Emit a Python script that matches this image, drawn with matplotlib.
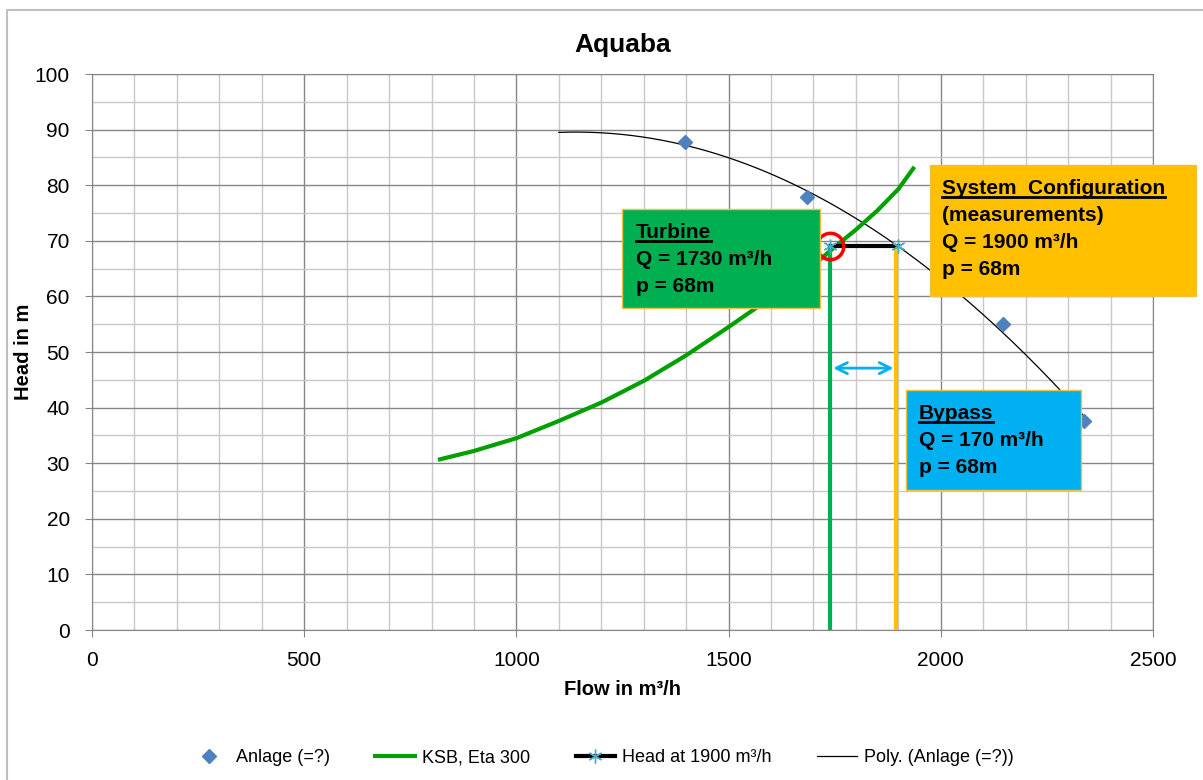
import matplotlib
matplotlib.use("Agg")
import matplotlib.pyplot as plt
from matplotlib.patches import Rectangle
from matplotlib.lines import Line2D
import numpy as np

plt.rcParams['font.family'] = ['Liberation Sans', 'DejaVu Sans']

# measured points of the system (Anlage)
anlage_q = [1398, 1684, 2147, 2337]
anlage_h = [87.7, 77.8, 55.0, 37.6]

# KSB Eta 300 curve
ksb_q = [820, 900, 1000, 1100, 1200, 1300, 1400, 1500, 1600, 1700, 1750, 1800, 1850, 1900, 1935]
ksb_h = [30.7, 32.2, 34.5, 37.6, 40.9, 44.8, 49.4, 54.5, 59.8, 65.6, 68.9, 72.0, 75.4, 79.3, 83.0]

# head at 1900 m3/h
head_q = [1738, 1898]
head_h = [69.0, 69.0]

turbine_q = 1740
system_q = 1895
bypass_h = 47.1
poly_range = [1100, 2337]

fig = plt.figure(figsize=(12.03, 7.8), dpi=100)
W, H = 1203, 780
ax = fig.add_axes([92 / W, 1 - 630 / H, (1153 - 92) / W, (630 - 74) / H])

ax.set_xlim(0, 2500)
ax.set_ylim(0, 100)
ax.set_xticks(np.arange(0, 2501, 500))
ax.set_yticks(np.arange(0, 101, 10))
ax.set_xticks(np.arange(0, 2501, 100), minor=True)
ax.set_yticks(np.arange(0, 101, 5), minor=True)
ax.grid(which='major', color='#868686', lw=1.0)
ax.grid(which='minor', color='#C8C8C8', lw=1.0)
ax.set_axisbelow(True)
ax.tick_params(which='minor', length=0)
ax.tick_params(which='major', length=5, color='#868686', labelsize=15)
ax.tick_params(axis='x', pad=10)
ax.tick_params(axis='y', pad=11)
for s in ax.spines.values():
    s.set_color('#868686')

# polynomial trend of the measured points
coef = np.polyfit(anlage_q, anlage_h, 2)
qq = np.linspace(poly_range[0], poly_range[1], 200)
ax.plot(qq, np.polyval(coef, qq), color='black', lw=0.9, zorder=3,
        label='Poly. (Anlage (=?))')

ax.plot(ksb_q, ksb_h, color='#00A000', lw=3, zorder=4, label='KSB, Eta 300')
ax.plot(anlage_q, anlage_h, ls='none', marker='D', ms=7, color='#4F81BD', zorder=5,
        label='Anlage (=?)')
ax.plot(head_q, head_h, color='black', lw=3, marker=(6, 2, 0), ms=10,
        mec='#4BACC6', mew=1, zorder=6, label='Head at 1900 m³/h')

ax.plot([turbine_q, turbine_q], [0, head_h[0]], color='#00B050', lw=3, zorder=5)
ax.plot([system_q, system_q], [0, head_h[0]], color='#FFC000', lw=3, zorder=5)
ax.plot([turbine_q], [head_h[0]], marker='o', ms=19, mfc='none', mec='#FF0000',
        mew=2.5, zorder=7)
ax.annotate('', xy=(system_q, bypass_h), xytext=(turbine_q, bypass_h),
            arrowprops=dict(arrowstyle='<->', color='#00B0F0', lw=2,
                            mutation_scale=20), zorder=6)

ax.set_title('Aquaba', fontsize=19, fontweight='bold', pad=16)
ax.set_xlabel('Flow in m³/h', fontsize=14.5, fontweight='bold', labelpad=7)
ax.set_ylabel('Head in m', fontsize=14.5, fontweight='bold', labelpad=1)


def box(x0, y0, x1, y1, color, lines, tx, ty, dy=27):
    fig.add_artist(Rectangle((x0 / W, 1 - y1 / H), (x1 - x0) / W, (y1 - y0) / H,
                             transform=fig.transFigure, fc=color, ec='#F0C040',
                             lw=1, zorder=10))
    texts = []
    for i, t in enumerate(lines):
        texts.append(fig.text(tx / W, 1 - (ty + i * dy) / H, t, fontsize=15,
                              fontweight='bold', va='baseline', zorder=11))
    return texts[0]


heads = []
heads.append(box(622, 209, 820, 308, '#00B050',
                 ['Turbine', 'Q = 1730 m³/h', 'p = 68m'], 636, 238))
heads.append(box(930, 165, 1196, 296, '#FFC000',
                 ['System  Configuration', '(measurements)', 'Q = 1900 m³/h', 'p = 68m'],
                 942, 194))
heads.append(box(906, 390, 1081, 490, '#00B0F0',
                 ['Bypass', 'Q = 170 m³/h', 'p = 68m'], 919, 419))

fig.canvas.draw()
r = fig.canvas.get_renderer()
for t in heads:
    bb = t.get_window_extent(r)
    yl = bb.y0 + 1
    fig.add_artist(Line2D([bb.x0 / W, bb.x1 / W], [yl / H, yl / H],
                          transform=fig.transFigure, color='black', lw=2, zorder=12))

# chart area border (only top and left edges are inside the picture)
fig.add_artist(Line2D([7 / W, 7 / W, 1], [0, 1 - 10 / H, 1 - 10 / H],
                      transform=fig.transFigure, color='#BFBFBF', lw=1.5))

h, l = ax.get_legend_handles_labels()
order = [2, 1, 3, 0]
fig.legend([h[i] for i in order], [l[i] for i in order], loc='center',
           bbox_to_anchor=(0.5, 1 - 758 / H), ncol=4, frameon=False, fontsize=13,
           handlelength=2.2, columnspacing=2.5, handletextpad=0.4)

fig.savefig('out.png', dpi=100)
